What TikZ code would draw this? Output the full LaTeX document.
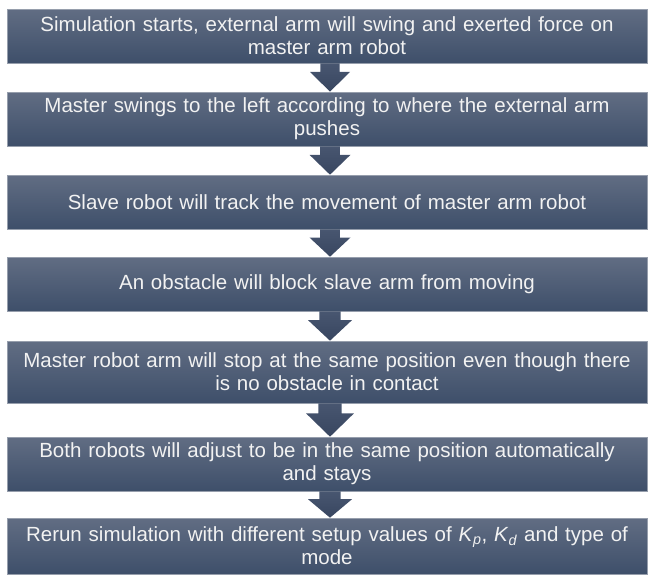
\documentclass[tikz,border=0pt]{standalone}
\usepackage{fontspec}
\setmainfont{Liberation Sans}
\usetikzlibrary{calc}
\definecolor{boxtop}{RGB}{97,109,131}
\definecolor{boxbot}{RGB}{62,79,106}
\definecolor{boxedge}{RGB}{150,158,172}
\definecolor{arrtop}{RGB}{72,86,112}
\definecolor{arrbot}{RGB}{56,70,96}
\definecolor{boxtext}{RGB}{242,242,242}
\tikzset{
  flowbox/.style={rectangle, inner sep=0pt, minimum width=640pt,
    text width=636pt, align=center, top color=boxtop, bottom color=boxbot,
    draw=boxedge, line width=0.6pt, text=boxtext,
    font=\fontsize{20.5pt}{23pt}\selectfont},
  blockarrow/.style={top color=arrtop, bottom color=arrbot, draw=none}
}
\newcommand\flowarrow[3]{%
  \path[blockarrow] let \p1=($(#1.south)+(3pt,0)$), \p2=($(#2.north)+(3pt,0)$),
    \n1={\y1-\y2} in
    (\x1-#3*0.24pt,\y1) -- (\x1+#3*0.24pt,\y1) -- (\x1+#3*0.24pt,\y2+0.7*\n1)
    -- (\x1+#3*0.5pt,\y2+0.7*\n1) -- (\x2,\y2) -- (\x1-#3*0.5pt,\y2+0.7*\n1)
    -- (\x1-#3*0.24pt,\y2+0.7*\n1) -- cycle;}
\begin{document}
\begin{tikzpicture}[x=1pt,y=-1pt]
\useasboundingbox (0,0) rectangle (649,574);
\node[flowbox, minimum height=54pt] (b1) at (327,36) {Simulation starts, external arm will swing and exerted force on\\ master arm robot};
\node[flowbox, minimum height=54pt] (b2) at (327,119) {Master swings to the left according to where the external arm\\ pushes};
\node[flowbox, minimum height=54pt] (b3) at (327,202) {Slave robot will track the movement of master arm robot};
\node[flowbox, minimum height=54pt] (b4) at (327,284) {An obstacle will block slave arm from moving};
\node[flowbox, minimum height=62pt] (b5) at (327,372) {Master robot arm will stop at the same position even though there\\ is no obstacle in contact};
\node[flowbox, minimum height=54pt] (b6) at (327,464) {Both robots will adjust to be in the same position automatically\\ and stays};
\node[flowbox, minimum height=56pt] (b7) at (327,546) {Rerun simulation with different setup values of \textit{K}\textsubscript{\textit{p}}, \textit{K}\textsubscript{\textit{d}} and type of\\ mode};
\flowarrow{b1}{b2}{40}
\flowarrow{b2}{b3}{41}
\flowarrow{b3}{b4}{41}
\flowarrow{b4}{b5}{44}
\flowarrow{b5}{b6}{48}
\flowarrow{b6}{b7}{44}
\end{tikzpicture}
\end{document}
